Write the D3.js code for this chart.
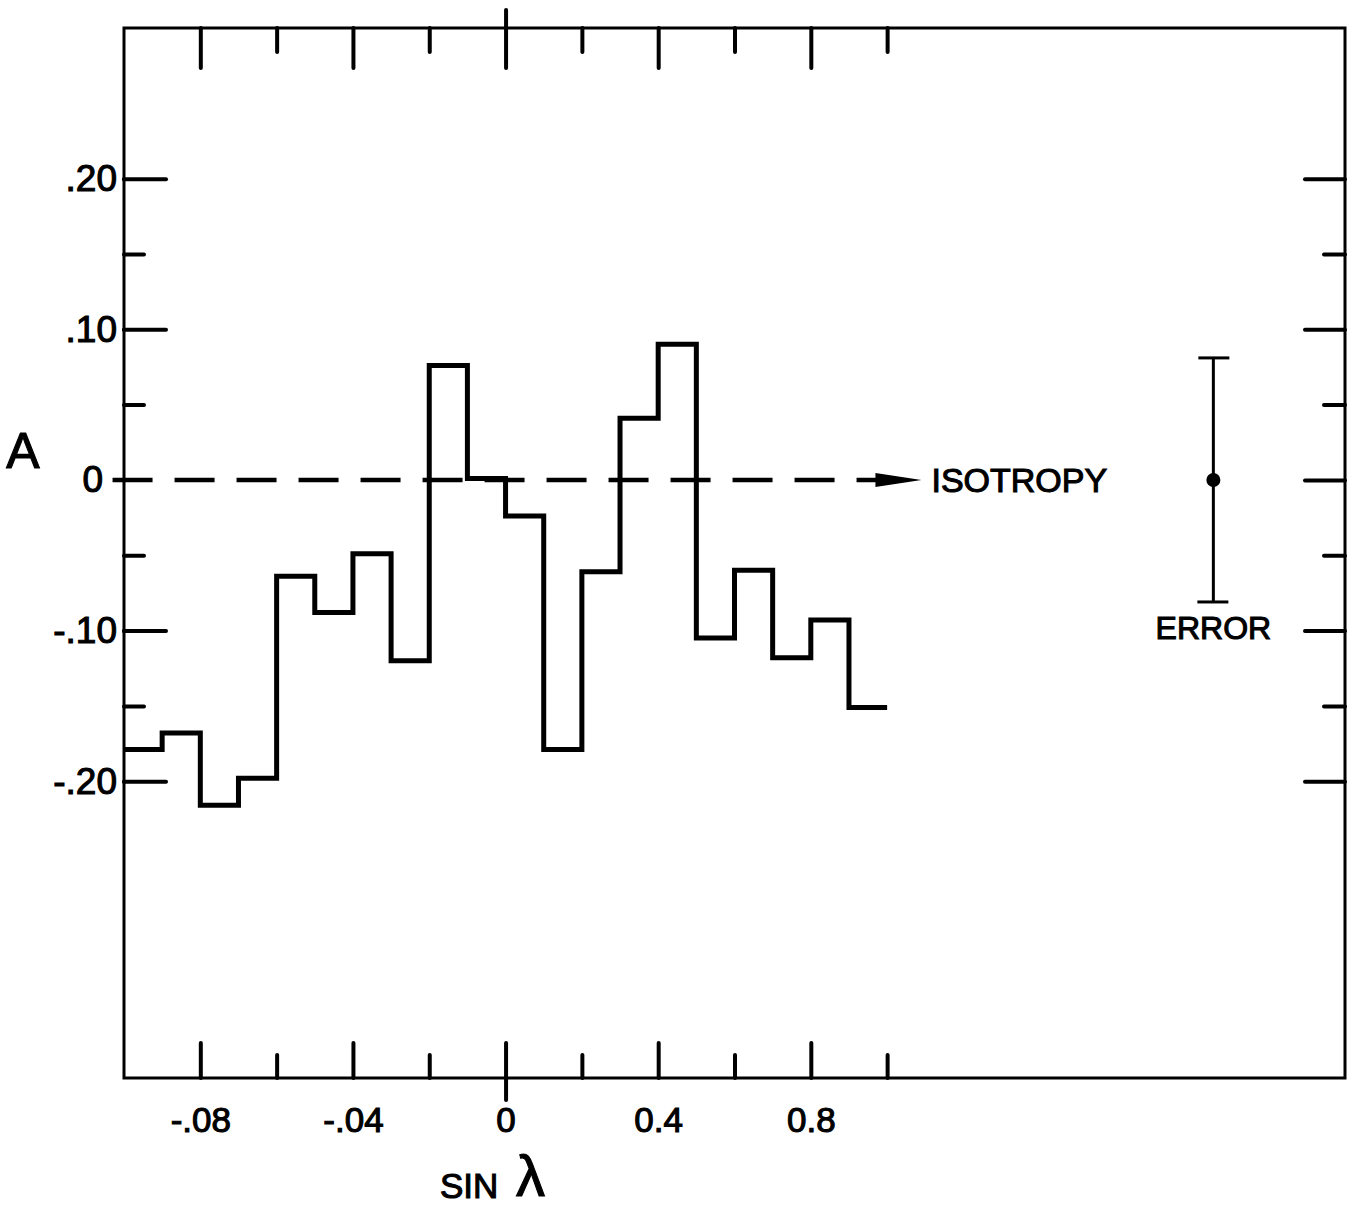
<!DOCTYPE html>
<html>
<head>
<meta charset="utf-8">
<script src="https://cdn.jsdelivr.net/npm/d3@7"></script>
<style>
  body { margin: 0; background: #fff; }
  text { font-family: "Liberation Sans", Arial, sans-serif; fill: #000; stroke: #000; stroke-width: 1.1px; }
</style>
</head>
<body>
<div id="container"></div>
<script>
const w = 1347;
const h = 1210;
const p = {top: 28, right: 2, bottom: 132, left: 124};

// histogram: bin edges in sin(lambda), anisotropy A per bin
const binEdges = [-1.0, -0.9, -0.8, -0.7, -0.6, -0.5, -0.4, -0.3, -0.2, -0.1, 0,
                  0.1, 0.2, 0.3, 0.4, 0.5, 0.6, 0.7, 0.8, 0.9, 1.0];
const aValues = [-0.179, -0.168, -0.216, -0.198, -0.064, -0.088, -0.049, -0.120, 0.076, 0.001,
                 -0.024, -0.179, -0.061, 0.041, 0.090, -0.105, -0.060, -0.118, -0.093, -0.151];

const xMajor = [-0.8, -0.4, 0, 0.4, 0.8];
const xMinor = [-0.6, -0.2, 0.2, 0.6, 1.0];
const xLabels = ['-.08', '-.04', '0', '0.4', '0.8'];
const yMajor = [-0.2, -0.1, 0, 0.1, 0.2];
const yMinor = [-0.15, -0.05, 0.05, 0.15];
const yLabels = ['-.20', '-.10', '0', '.10', '.20'];

const isotropy = {from: -1.03, to: 1.09, a: 0};
const errorBar = {x: 1.855, center: 0, half: 0.081};

const svg = d3.select('#container')
  .append('svg')
  .attr('width', w)
  .attr('height', h)
  .attr('viewBox', [0, 0, w, h]);

const x = d3.scaleLinear()
  .domain([-1, 2.2])
  .range([p.left, w - p.right]);
const y = d3.scaleLinear()
  .domain([-0.397, 0.300])
  .range([h - p.bottom, p.top]);

const tickStyle = g => {
  g.select('.domain').remove();
  g.selectAll('.tick line')
    .attr('stroke', '#000')
    .attr('stroke-width', 4)
    .attr('stroke-linecap', 'round');
};

// frame
svg.append('rect')
  .attr('x', x.range()[0])
  .attr('y', y.range()[1])
  .attr('width', x.range()[1] - x.range()[0])
  .attr('height', y.range()[0] - y.range()[1])
  .attr('fill', 'none')
  .attr('stroke', '#000')
  .attr('stroke-width', 3);

// bottom axis
const yb = h - p.bottom;
svg.append('g')
  .attr('transform', 'translate(0,' + yb + ')')
  .call(d3.axisBottom(x).tickValues(xMajor).tickSize(-35).tickPadding(29)
    .tickFormat((d, i) => xLabels[i]))
  .call(tickStyle)
  .call(g => g.selectAll('text').attr('font-size', 35));
svg.append('g')
  .attr('transform', 'translate(0,' + yb + ')')
  .call(d3.axisBottom(x).tickValues(xMinor).tickSize(-23).tickFormat(''))
  .call(tickStyle);
svg.append('g')
  .attr('transform', 'translate(0,' + yb + ')')
  .call(d3.axisBottom(x).tickValues([0]).tickSize(22).tickFormat(''))
  .call(tickStyle);

// top axis
svg.append('g')
  .attr('transform', 'translate(0,' + p.top + ')')
  .call(d3.axisTop(x).tickValues(xMajor).tickSize(-40).tickFormat(''))
  .call(tickStyle);
svg.append('g')
  .attr('transform', 'translate(0,' + p.top + ')')
  .call(d3.axisTop(x).tickValues(xMinor).tickSize(-24).tickFormat(''))
  .call(tickStyle);
svg.append('g')
  .attr('transform', 'translate(0,' + p.top + ')')
  .call(d3.axisTop(x).tickValues([0]).tickSize(18).tickFormat(''))
  .call(tickStyle);

// left axis
svg.append('g')
  .attr('transform', 'translate(' + p.left + ',0)')
  .call(d3.axisLeft(y).tickValues(yMajor).tickSize(0).tickPadding(7)
    .tickFormat((d, i) => yLabels[i]))
  .call(tickStyle)
  .call(g => g.selectAll('text').attr('font-size', 37))
  .call(g => g.selectAll('.tick').filter(d => d === 0).select('text').attr('dx', -14));
svg.append('g')
  .attr('transform', 'translate(' + p.left + ',0)')
  .call(d3.axisLeft(y).tickValues(yMajor.filter(d => d !== 0)).tickSize(-42).tickFormat(''))
  .call(tickStyle);
svg.append('g')
  .attr('transform', 'translate(' + p.left + ',0)')
  .call(d3.axisLeft(y).tickValues(yMinor).tickSize(-20).tickFormat(''))
  .call(tickStyle);

// right axis
svg.append('g')
  .attr('transform', 'translate(' + (w - p.right) + ',0)')
  .call(d3.axisRight(y).tickValues(yMajor).tickSize(-40).tickFormat(''))
  .call(tickStyle);
svg.append('g')
  .attr('transform', 'translate(' + (w - p.right) + ',0)')
  .call(d3.axisRight(y).tickValues(yMinor).tickSize(-21).tickFormat(''))
  .call(tickStyle);

// isotropy dashed arrow
const headLen = 46;
const xTip = x(isotropy.to);
const y0 = y(isotropy.a);
svg.append('line')
  .attr('x1', x(isotropy.from))
  .attr('x2', xTip - headLen + 4)
  .attr('y1', y0)
  .attr('y2', y0)
  .attr('stroke', '#000')
  .attr('stroke-width', 4.5)
  .attr('stroke-dasharray', '40 22');
svg.append('path')
  .attr('d', 'M' + xTip + ',' + y0 + 'L' + (xTip - headLen) + ',' + (y0 - 7) +
             'L' + (xTip - headLen) + ',' + (y0 + 7) + 'Z')
  .attr('fill', '#000');
svg.append('text')
  .attr('x', xTip + 10)
  .attr('y', y0 + 12)
  .attr('font-size', 34)
  .text('ISOTROPY');

// histogram
const stepData = aValues.map((a, i) => [binEdges[i], a]);
stepData.push([binEdges[binEdges.length - 1], aValues[aValues.length - 1]]);
svg.append('path')
  .datum(stepData)
  .attr('fill', 'none')
  .attr('stroke', '#000')
  .attr('stroke-width', 5)
  .attr('stroke-linejoin', 'miter')
  .attr('d', d3.line().x(d => x(d[0])).y(d => y(d[1])).curve(d3.curveStepAfter));

// error bar
const ex = x(errorBar.x);
const eTop = y(errorBar.center + errorBar.half);
const eBot = y(errorBar.center - errorBar.half);
const eb = svg.append('g').attr('stroke', '#000').attr('stroke-width', 3);
eb.append('line').attr('x1', ex).attr('x2', ex).attr('y1', eTop).attr('y2', eBot);
eb.append('line').attr('x1', ex - 15).attr('x2', ex + 16).attr('y1', eTop).attr('y2', eTop);
eb.append('line').attr('x1', ex - 16).attr('x2', ex + 15).attr('y1', eBot).attr('y2', eBot);
svg.append('circle')
  .attr('cx', ex)
  .attr('cy', y(errorBar.center))
  .attr('r', 7)
  .attr('fill', '#000');
svg.append('text')
  .attr('x', ex)
  .attr('y', eBot + 37)
  .attr('text-anchor', 'middle')
  .attr('font-size', 32)
  .text('ERROR');

// axis titles
svg.append('text')
  .attr('x', 23)
  .attr('y', 468)
  .attr('text-anchor', 'middle')
  .attr('font-size', 50)
  .text('A');
svg.append('text')
  .attr('x', 440)
  .attr('y', 1198)
  .attr('font-size', 35)
  .text('SIN');
svg.append('text')
  .attr('x', 516)
  .attr('y', 1196)
  .attr('font-size', 58)
  .attr('stroke-width', 0)
  .text('λ');
</script>
</body>
</html>
